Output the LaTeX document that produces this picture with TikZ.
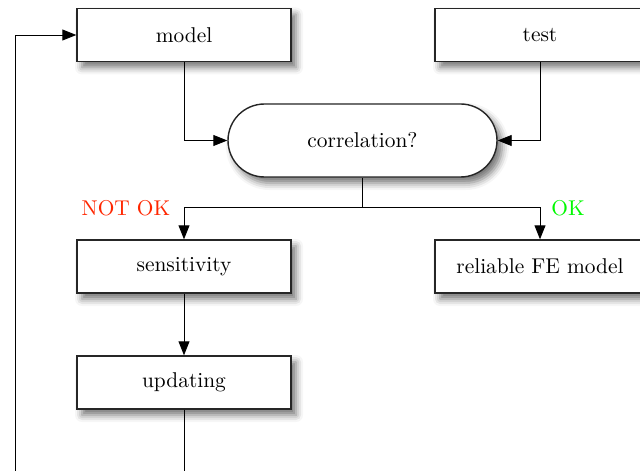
\documentclass[tikz,border=0pt]{standalone}
\usetikzlibrary{arrows.meta,shadows.blur}
\definecolor{notokred}{RGB}{255,38,0}
\definecolor{okgreen}{RGB}{0,249,0}
\tikzset{
  box/.style={draw=black!85, line width=0.7pt, fill=white,
    minimum height=26.5pt, inner sep=2pt,
    font=\fontsize{10.7pt}{13pt}\selectfont,
    blur shadow={shadow xshift=2.5pt, shadow yshift=-3pt,
      shadow blur radius=3.5pt, shadow opacity=55}},
  stadium/.style={box, minimum width=134.5pt, minimum height=36.5pt,
    rounded corners=18.25pt},
  link/.style={draw=black, line width=0.45pt},
  arr/.style={link, -{Triangle[length=7pt,width=5.5pt]}},
  verdict/.style={font=\fontsize{10.7pt}{13pt}\selectfont, inner sep=0pt}
}
\begin{document}
\begin{tikzpicture}[x=0.5pt,y=-0.5pt]
  \useasboundingbox (0,0) rectangle (640,470);
  \clip (0,0) rectangle (640,470);

  % boxes
  \node[box, minimum width=107pt] (model) at (184,35) {model};
  \node[box, minimum width=105pt] (test) at (540,35) {test};
  \node[stadium] (corr) at (362.5,140.5) {correlation?};
  \node[box, minimum width=107pt] (sens) at (184,266.5) {sensitivity};
  \node[box, minimum width=105pt] (rel) at (540,266.5) {reliable FE model};
  \node[box, minimum width=107pt] (upd) at (184,382.5) {updating};

  % verdict labels
  \node[verdict, text=notokred] (notok) at (126,208) {NOT OK};
  \node[verdict, text=okgreen] (ok) at (568,208) {OK};

  % split point and loop return
  \coordinate (split) at (362.5,207);
  \coordinate (loop) at (15,500);

  % connectors
  \draw[arr] (model.south) |- (corr.west);
  \draw[arr] (test.south) |- (corr.east);
  \draw[link] (corr.south) -- (split);
  \draw[arr] (split) -| (sens.north);
  \draw[arr] (split) -| (rel.north);
  \draw[arr] (sens.south) -- (upd.north);
  \draw[arr] (upd.south) |- (loop) |- (model.west);
\end{tikzpicture}
\end{document}
